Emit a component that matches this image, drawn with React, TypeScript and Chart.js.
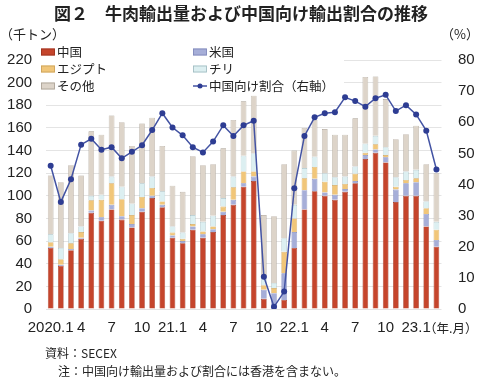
import React, { useEffect, useRef } from 'react';
import { Chart, registerables } from 'chart.js';

Chart.register(...registerables);

const months = [
  '2020.1', '', '', '4', '', '', '7', '', '', '10', '', '',
  '21.1', '', '', '4', '', '', '7', '', '', '10', '', '',
  '22.1', '', '', '4', '', '', '7', '', '', '10', '', '',
  '23.1', '', '',
];

const china = [54, 38, 52, 62, 85, 78, 88, 79, 72, 86, 98, 90, 63, 58, 70, 63, 68, 83, 92, 108, 113, 9, 0.5, 8, 54, 88, 104, 100, 96.5, 103.5, 111, 132.5, 138, 129.5, 94.5, 100, 100, 73, 55];
const usa = [1, 1, 1, 1, 2, 3, 4, 3, 3, 3, 2, 2, 2, 2, 3, 3, 2.5, 3, 4.5, 3, 4, 8, 13.5, 23.5, 14, 17, 11, 3, 4.5, 2.5, 2, 3.5, 3, 4.5, 11, 11, 12, 11, 6];
const egypt = [4, 5, 5, 5, 9, 15.5, 19, 15, 8, 10, 7, 3, 2.5, 2, 2, 2.5, 2.5, 4.5, 11, 10.5, 4.5, 4, 4.5, 19, 12, 10.5, 10.5, 9.5, 8.5, 4.5, 6.5, 2, 4.5, 2, 2.5, 3, 3.5, 5, 9];
const chile = [7, 10, 9, 5, 4, 4.5, 6, 11, 10, 12, 10, 9, 5.5, 5.5, 8, 8.5, 9.5, 7.5, 9.5, 14, 16, 6, 4.5, 12, 12, 9, 9, 7.5, 7, 6.5, 6.5, 8, 7.5, 7, 8.5, 7.5, 7.5, 6, 7];
const others = [52, 58, 60, 45, 57, 53, 54, 57, 51, 53, 52, 40, 36, 36, 52, 50, 45.5, 44, 50, 48, 51, 56, 59, 65.5, 48, 35.5, 32.5, 39, 37.5, 37, 42.5, 59, 52.5, 42.5, 33.5, 33, 39, 33, 43];
const chinaShare = [46, 34.4, 41.7, 52.8, 54.7, 51.2, 52, 48.4, 50.5, 52.6, 57.5, 62.9, 58.3, 55.8, 52, 50.3, 53.8, 59, 55.6, 59, 60.5, 10.4, 0.7, 5.6, 38.8, 55.6, 61.6, 62.9, 63.2, 68, 66.8, 65, 67.7, 68.8, 63.6, 65.5, 62.5, 57.3, 44.8];

const seriesNames = ['中国', '米国', 'エジプト', 'チリ', 'その他', '中国向け割合（右軸）'];
const titleText = '図２　牛肉輸出量および中国向け輸出割合の推移';
const leftUnit = '（千トン）';
const rightUnit = '（%）';
const xUnit = '（年.月）';
const sourceNote = '資料：SECEX';
const footNote = '注：中国向け輸出量および割合には香港を含まない。';

const JP = "'Noto Sans CJK JP', 'Noto Sans', sans-serif";
const NUM = "'Liberation Sans', Arial, 'Noto Sans CJK JP', sans-serif";

const colors = {
  china: '#C5452C',
  chinaBorder: '#9A3320',
  usa: '#A6AED8',
  usaBorder: '#7F88B8',
  egypt: '#F1C679',
  egyptBorder: '#C9A05A',
  chile: '#DCEFF1',
  chileBorder: '#9FB9BE',
  others: '#DDD4C9',
  othersBorder: '#A9A094',
  line: '#4353A3',
  point: '#2E3D93',
};

const overlayPlugin = {
  id: 'overlay',
  beforeDatasetsDraw(chart: any) {
    const ctx = chart.ctx;
    ctx.save();
    ctx.fillStyle = '#ffffff';
    ctx.fillRect(38, 42, 306, 52);
    ctx.restore();
  },
  afterDraw(chart: any) {
    const ctx = chart.ctx;
    ctx.save();
    ctx.fillStyle = '#222';
    ctx.textBaseline = 'middle';
    // title
    ctx.font = `bold 17px ${JP}`;
    ctx.textAlign = 'center';
    ctx.fillText(titleText, 241, 14);
    // units
    ctx.font = `13px ${JP}`;
    ctx.textAlign = 'left';
    ctx.fillText(leftUnit, 0, 34);
    ctx.textAlign = 'right';
    ctx.fillText(rightUnit, 479, 34);
    ctx.textAlign = 'left';
    ctx.font = `12.5px ${JP}`;
    ctx.fillText(xUnit, 424, 328);
    // notes
    ctx.font = `12px ${JP}`;
    ctx.fillText(sourceNote, 45, 353);
    ctx.fillText(footNote, 58, 371);

    // legend
    const items = [
      { col: 0, row: 0, name: seriesNames[0], fill: colors.china, stroke: colors.chinaBorder },
      { col: 0, row: 1, name: seriesNames[2], fill: colors.egypt, stroke: colors.egyptBorder },
      { col: 0, row: 2, name: seriesNames[4], fill: colors.others, stroke: colors.othersBorder },
      { col: 1, row: 0, name: seriesNames[1], fill: colors.usa, stroke: colors.usaBorder },
      { col: 1, row: 1, name: seriesNames[3], fill: colors.chile, stroke: colors.chileBorder },
      { col: 1, row: 2, name: seriesNames[5], line: true },
    ];
    const colX = [41, 193];
    const rowY = [52, 69, 86];
    ctx.font = `12.5px ${JP}`;
    ctx.textAlign = 'left';
    for (const it of items as any[]) {
      const x = colX[it.col];
      const y = rowY[it.row];
      if (it.line) {
        ctx.strokeStyle = colors.line;
        ctx.lineWidth = 1.5;
        ctx.beginPath();
        ctx.moveTo(x, y);
        ctx.lineTo(x + 14, y);
        ctx.stroke();
        ctx.fillStyle = colors.point;
        ctx.beginPath();
        ctx.arc(x + 7, y, 2.5, 0, Math.PI * 2);
        ctx.fill();
      } else {
        ctx.fillStyle = it.fill;
        ctx.fillRect(x, y - 3.5, 14, 7);
        ctx.strokeStyle = it.stroke;
        ctx.lineWidth = 0.8;
        ctx.strokeRect(x + 0.5, y - 3, 13, 6);
      }
      ctx.fillStyle = '#222';
      ctx.fillText(it.name, x + 16, y);
    }
    ctx.restore();
  },
};

export default function App() {
  const canvasRef = useRef<HTMLCanvasElement | null>(null);

  useEffect(() => {
    const canvas = canvasRef.current;
    if (!canvas) return;
    const barCommon = {
      type: 'bar' as const,
      stack: 'exports',
      yAxisID: 'y',
      barPercentage: 0.56,
      categoryPercentage: 1,
      borderWidth: 0.6,
      order: 1,
    };
    const chart = new Chart(canvas, {
      type: 'bar',
      data: {
        labels: months,
        datasets: [
          {
            ...barCommon,
            type: 'line' as any,
            label: seriesNames[5],
            data: chinaShare,
            yAxisID: 'y1',
            borderColor: colors.line,
            backgroundColor: colors.point,
            borderWidth: 1.5,
            pointRadius: 3,
            pointBorderWidth: 0,
            pointBackgroundColor: colors.point,
            tension: 0,
            order: 0,
            stack: undefined,
          } as any,
          { ...barCommon, label: seriesNames[0], data: china, backgroundColor: colors.china, borderColor: colors.chinaBorder },
          { ...barCommon, label: seriesNames[1], data: usa, backgroundColor: colors.usa, borderColor: colors.usaBorder },
          { ...barCommon, label: seriesNames[2], data: egypt, backgroundColor: colors.egypt, borderColor: colors.egyptBorder },
          { ...barCommon, label: seriesNames[3], data: chile, backgroundColor: colors.chile, borderColor: colors.chileBorder },
          { ...barCommon, label: seriesNames[4], data: others, backgroundColor: colors.others, borderColor: colors.othersBorder },
        ],
      },
      options: {
        responsive: false,
        animation: false,
        layout: { padding: { top: 60, left: 0, right: 0, bottom: 0 } },
        plugins: {
          legend: { display: false },
          title: { display: false },
          tooltip: { enabled: false },
        },
        scales: {
          x: {
            stacked: true,
            grid: { display: false, drawTicks: false },
            border: { display: false },
            ticks: {
              autoSkip: false,
              maxRotation: 0,
              minRotation: 0,
              padding: 10,
              color: '#222',
              font: { family: NUM, size: 15 },
            },
            afterFit: (s: any) => { s.height = 74; },
          },
          y: {
            stacked: true,
            position: 'left',
            min: 0,
            max: 220,
            ticks: { stepSize: 20, padding: 13.5, color: '#222', font: { family: NUM, size: 15 } },
            grid: { color: '#e4e4e4', drawTicks: false, lineWidth: 1 },
            border: { display: false },
            afterFit: (s: any) => { s.width = 45.6; },
          },
          y1: {
            position: 'right',
            min: 0,
            max: 80,
            ticks: { stepSize: 10, padding: 16.5, color: '#222', font: { family: NUM, size: 15 } },
            grid: { display: false, drawTicks: false },
            border: { display: false },
            afterFit: (s: any) => { s.width = 38.5; },
          },
        },
      } as any,
      plugins: [overlayPlugin],
    });
    return () => chart.destroy();
  }, []);

  return (
    <div style={{ position: 'fixed', left: 0, top: 0, width: 480, height: 383, background: '#fff' }}>
      <canvas ref={canvasRef} width={480} height={383} style={{ display: 'block', width: 480, height: 383 }} />
    </div>
  );
}
